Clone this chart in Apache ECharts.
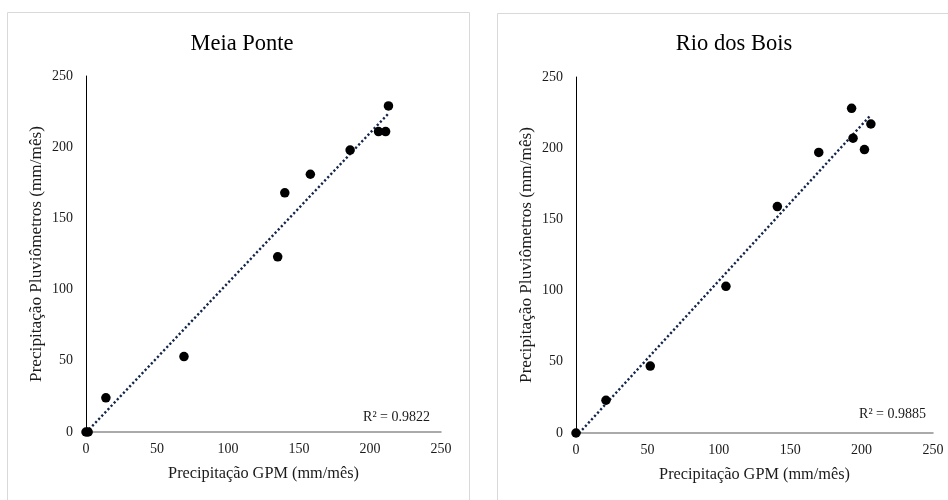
<!DOCTYPE html>
<html>
<head>
<meta charset="utf-8">
<script src="https://cdn.jsdelivr.net/npm/echarts@6/dist/echarts.min.js"></script>
<style>html,body{margin:0;padding:0;background:#fff;}#c{width:948px;height:500px;}</style>
</head>
<body>
<div id="c"></div>
<script>
// Meia Ponte
var mpGpm  = [0, 1.5, 14, 69, 135, 140, 158, 186, 206, 211, 213];
var mpPluv = [0, 0, 24, 53, 123, 168, 181, 198, 211, 211, 229];
var mpR2 = '0.9822';
// Rio dos Bois
var rbGpm  = [0, 21, 52, 105, 141, 170, 193, 194, 202, 206.5];
var rbPluv = [0, 23, 47, 103, 159, 197, 228, 207, 199, 217];
var rbR2 = '0.9885';
var titles = ['Meia Ponte', 'Rio dos Bois'];
var xName = 'Precipitação GPM (mm/mês)';
var yName = 'Precipitação Pluviômetros (mm/mês)';

function pairs(xs, ys){ return xs.map(function(x,i){ return [x, ys[i]]; }); }
function fit(xs, ys){
  var n = xs.length, sx=0, sy=0, sxx=0, sxy=0;
  for (var i=0;i<n;i++){ sx+=xs[i]; sy+=ys[i]; sxx+=xs[i]*xs[i]; sxy+=xs[i]*ys[i]; }
  var b = (n*sxy - sx*sy)/(n*sxx - sx*sx), a = (sy - b*sx)/n;
  var x0 = Math.min.apply(null, xs), x1 = Math.max.apply(null, xs);
  return [[x0, a+b*x0],[x1, a+b*x1]];
}

var font = 'Liberation Serif, Times New Roman, serif';
function xAx(idx){
  return {type:'value', gridIndex:idx, min:0, max:250, interval:50,
    name:xName, nameLocation:'middle', nameGap:34,
    nameTextStyle:{fontFamily:font, fontSize:16.3, color:'#1a1a1a'},
    axisLine:{show:true, lineStyle:{color:'#8f8f8f', width:1.5}},
    axisTick:{show:false}, splitLine:{show:false},
    axisLabel:{fontFamily:font, fontSize:14, color:'#1a1a1a', margin:10}};
}
function yAx(idx){
  return {type:'value', gridIndex:idx, min:0, max:250, interval:50,
    name:yName, nameLocation:'middle', nameGap:41,
    nameTextStyle:{fontFamily:font, fontSize:17.2, color:'#1a1a1a'},
    axisLine:{show:true, onZero:false, lineStyle:{color:'#000', width:1}},
    axisTick:{show:false}, splitLine:{show:false},
    axisLabel:{fontFamily:font, fontSize:14, color:'#1a1a1a', margin:13}};
}
function scat(idx, xs, ys){
  return {type:'scatter', xAxisIndex:idx, yAxisIndex:idx, data:pairs(xs, ys),
    symbol:'circle', symbolSize:9.5, itemStyle:{color:'#000', opacity:1}, z:3, silent:true};
}
function trend(idx, xs, ys){
  return {type:'line', xAxisIndex:idx, yAxisIndex:idx, data:fit(xs, ys),
    showSymbol:false, symbol:'none', silent:true, z:2,
    lineStyle:{color:'#14264a', width:2.4, type:[2.2, 2.3], cap:'butt'}};
}

var chart = echarts.init(document.getElementById('c'), null, {renderer:'canvas'});
chart.setOption({
  animation:false,
  backgroundColor:'#fff',
  title:[
    {text:titles[0], left:237, top:28, textAlign:'center', textStyle:{fontFamily:font, fontSize:22.5, fontWeight:'normal', color:'#000'}},
    {text:titles[1], left:729, top:28, textAlign:'center', textStyle:{fontFamily:font, fontSize:22.5, fontWeight:'normal', color:'#000'}}
  ],
  grid:[
    {left:86, top:76, width:355, height:356},
    {left:576, top:77, width:357, height:356}
  ],
  xAxis:[xAx(0), xAx(1)],
  yAxis:[yAx(0), yAx(1)],
  series:[trend(0, mpGpm, mpPluv), scat(0, mpGpm, mpPluv), trend(1, rbGpm, rbPluv), scat(1, rbGpm, rbPluv)],
  graphic:[
    {type:'rect', shape:{x:7.5, y:12.5, width:462, height:520}, style:{fill:'none', stroke:'#d9d9d9', lineWidth:1}, silent:true},
    {type:'rect', shape:{x:497.5, y:13.5, width:470, height:520}, style:{fill:'none', stroke:'#d9d9d9', lineWidth:1}, silent:true},
    {type:'text', x:430, y:417, style:{text:'R² = ' + mpR2, font:'14px ' + font, fill:'#1a1a1a', textAlign:'right', textVerticalAlign:'middle'}, silent:true},
    {type:'text', x:926, y:414, style:{text:'R² = ' + rbR2, font:'14px ' + font, fill:'#1a1a1a', textAlign:'right', textVerticalAlign:'middle'}, silent:true}
  ]
});
</script>
</body>
</html>
